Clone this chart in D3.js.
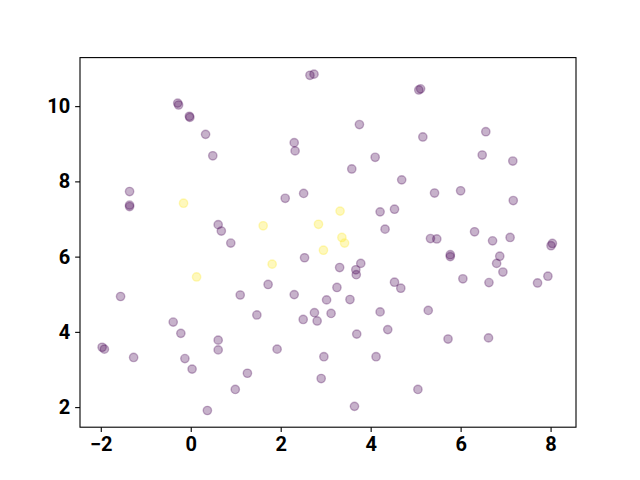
<!DOCTYPE html>
<html><head><meta charset="utf-8">
<script src="https://cdn.jsdelivr.net/npm/d3@7"></script>
<style>body{margin:0;background:#fff}svg{display:block}</style>
</head><body>
<script>
// Purple series (class 0)
const purpleX = [-0.29,-0.27,-0.03,-0.02,0.33,0.49,-1.36,-1.36,-1.36,0.61,0.68,0.89,
 2.65,2.74,3.75,2.30,2.32,4.10,3.58,4.69,2.51,2.10,4.53,4.21,4.32,
 5.07,5.11,6.56,5.16,6.48,7.16,5.42,6.00,7.17,6.31,5.33,5.47,6.71,7.10,
 8.04,8.01,5.77,5.77,6.87,6.80,6.94,6.05,6.63,7.94,7.71,5.28,5.72,6.62,5.05,
 -1.56,1.10,-0.39,-0.22,-1.97,-1.92,-1.27,0.61,0.61,-0.13,0.03,1.26,0.99,0.37,
 2.53,3.31,3.78,3.67,3.68,1.72,4.53,4.67,3.25,2.30,3.02,3.54,1.47,2.75,2.50,2.81,3.12,4.21,4.38,3.69,1.92,2.96,4.12,2.90,3.64];
const purpleY = [10.08,10.03,9.73,9.70,9.25,8.68,7.73,7.37,7.33,6.85,6.68,6.36,
 10.82,10.85,9.51,9.03,8.81,8.64,8.33,8.04,7.68,7.55,7.26,7.19,6.73,
 10.43,10.46,9.32,9.18,8.70,8.54,7.69,7.75,7.49,6.66,6.48,6.47,6.42,6.51,
 6.35,6.29,6.05,6.00,6.01,5.82,5.59,5.41,5.31,5.48,5.30,4.57,3.81,3.84,2.47,
 4.94,4.98,4.26,3.96,3.59,3.54,3.32,3.78,3.52,3.29,3.01,2.90,2.47,1.91,
 5.97,5.71,5.82,5.65,5.52,5.26,5.32,5.16,5.18,4.99,4.85,4.86,4.45,4.51,4.33,4.29,4.49,4.53,4.06,3.94,3.54,3.34,3.34,2.76,2.02];
// Yellow series (class 1)
const yellowX = [-0.16,1.61,2.84,3.32,3.36,3.42,2.95,1.81,0.13];
const yellowY = [7.42,6.82,6.86,7.21,6.51,6.36,6.17,5.80,5.46];
const xTicks = [-2,0,2,4,6,8];
const yTicks = [2,4,6,8,10];

const W=640,H=480, L=80, R=576, T=57.6, B=427.2;
const svg=d3.select("body").append("svg").attr("width",W).attr("height",H);
const x=d3.scaleLinear().domain([-2.462,8.565]).range([L,R]);
const y=d3.scaleLinear().domain([1.466,11.29]).range([B,T]);

const pts=[];
purpleX.forEach((v,i)=>pts.push({x:v,y:purpleY[i],c:"#440154"}));
yellowX.forEach((v,i)=>pts.push({x:v,y:yellowY[i],c:"#fde725"}));

svg.append("g").selectAll("circle").data(pts).join("circle")
 .attr("cx",d=>x(d.x)).attr("cy",d=>y(d.y)).attr("r",4.17)
 .attr("fill",d=>d.c).attr("fill-opacity",0.3)
 .attr("stroke",d=>d.c).attr("stroke-opacity",0.3).attr("stroke-width",1.4);

const fmt=d3.format("d");
const xa=svg.append("g").attr("transform",`translate(0,${B})`)
 .call(d3.axisBottom(x).tickValues(xTicks).tickFormat(d=>fmt(d)).tickSizeOuter(0).tickSize(4.86).tickPadding(4.86));
const ya=svg.append("g").attr("transform",`translate(${L},0)`)
 .call(d3.axisLeft(y).tickValues(yTicks).tickFormat(d=>fmt(d)).tickSizeOuter(0).tickSize(4.86).tickPadding(4.86));
[xa,ya].forEach(a=>{
 a.select(".domain").remove();
 a.selectAll("line").attr("stroke","#000").attr("stroke-width",1.1);
 a.selectAll("text").attr("font-family","Roboto, sans-serif").attr("font-weight","700").attr("font-size","20px").attr("fill","#000");
});
svg.append("rect").attr("x",L).attr("y",T).attr("width",R-L).attr("height",B-T)
 .attr("fill","none").attr("stroke","#000").attr("stroke-width",1.1);
</script>
</body></html>
